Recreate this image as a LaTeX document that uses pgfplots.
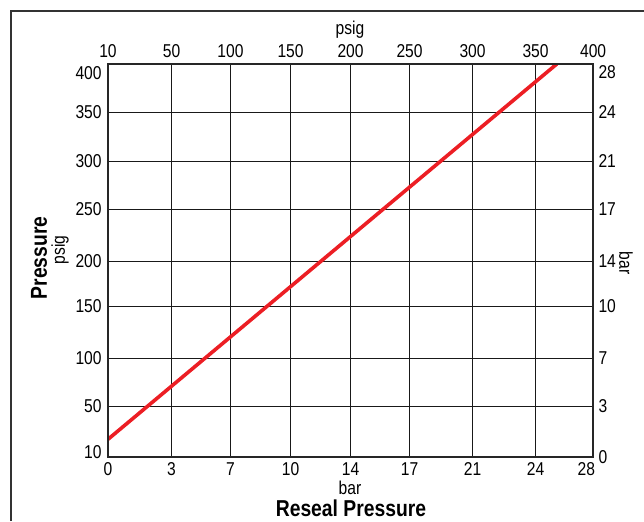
\documentclass[border=0pt]{standalone}
\usepackage{fontspec}
\setmainfont{Liberation Sans}[FakeStretch=0.84]
\usepackage{pgfplots}
\pgfplotsset{compat=1.18}
\definecolor{linered}{RGB}{236,30,36}
\newcommand{\tk}{\fontsize{9.3}{11}\selectfont}
\newcommand{\dn}[2]{\raisebox{#1}[\height][\depth]{#2}}
\begin{document}
\begin{tikzpicture}
\path[use as bounding box] (0,0) rectangle (322pt,260.5pt);
% outer frame
\draw[line width=1pt, black!80] ({5.3pt},0pt) -- ({5.3pt},{255.2pt}) -- (322pt,{255.2pt});
\begin{axis}[
  at={(54pt,31.85pt)}, anchor=south west,
  scale only axis, width=242.5pt, height=196.65pt,
  xmin=0, xmax=485, ymin=0, ymax=393.3,
  xtick={0,63.5,122.5,182.5,242.5,301.5,364.5,427.5,485},
  xticklabels={0,3,7,10,14,17,21,24,{\hbox to 0pt{\hss 28\hspace{-1pt}}}},
  ytick={0,50.8,98.8,150.8,195.8,247.8,295.8,344.8,393.3},
  yticklabels={\dn{2.5pt}{10},50,100,150,200,250,300,350,\dn{-4.5pt}{400}},
  grid=major,
  major grid style={black!90, line width=0.55pt},
  major tick length=0pt,
  axis line style={line width=1pt, black!85},
  tick label style={font=\tk, /pgf/number format/assume math mode=true},
  xticklabel style={inner sep=1.5pt, yshift=-1pt},
  yticklabel style={inner sep=1.5pt, xshift=-1.5pt},
  clip=true,
]
\addplot[linered, line width=1.8pt] coordinates {(0,18) (448.7,393.3)};
\end{axis}
\begin{axis}[
  at={(54pt,31.85pt)}, anchor=south west,
  scale only axis, width=242.5pt, height=196.65pt,
  xmin=0, xmax=485, ymin=0, ymax=393.3,
  xtick={0,63.5,122.5,182.5,242.5,301.5,364.5,427.5,485},
  xticklabels={10,50,100,150,200,250,300,350,{400\hspace{8pt}}},
  ytick={0,50.8,98.8,150.8,195.8,247.8,295.8,344.8,393.3},
  yticklabels={0,3,7,10,14,17,21,24,\dn{-4pt}{28}},
  xticklabel pos=right, yticklabel pos=right,
  major tick length=0pt,
  axis line style={line width=1pt, black!85},
  tick label style={font=\tk, /pgf/number format/assume math mode=true},
  xticklabel style={inner sep=1.5pt, yshift=1.5pt},
  yticklabel style={inner sep=1.5pt, xshift=1pt},
]
\end{axis}
% axis titles
\node[font=\tk] at ({350*0.5pt},{(521-30)*0.5pt}) {psig};
\node[font=\tk] at ({350*0.5pt},{(521-488)*0.5pt}) {bar};
\node[font=\fontsize{11.5}{13}\selectfont\bfseries] at ({351*0.5pt},{(521-508)*0.5pt}) {Reseal Pressure};
\node[font=\fontsize{11.5}{13}\selectfont\bfseries, rotate=90] at ({39*0.5pt},{(521-258)*0.5pt}) {Pressure};
\node[font=\tk, rotate=90] at ({60*0.5pt},{(521-250)*0.5pt}) {psig};
\node[font=\tk, rotate=-90] at ({626*0.5pt},{(521-263)*0.5pt}) {bar};
\end{tikzpicture}
\end{document}
